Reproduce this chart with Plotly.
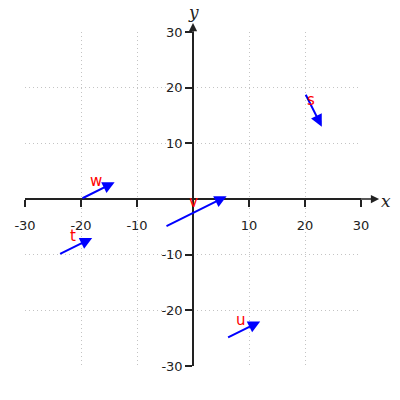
import plotly.graph_objects as go

# ── data ─────────────────────────────────────────────────────────────
names  = ['s', 't', 'u', 'v', 'w']
tail_x = [20, -24, 6, -5, -20]
tail_y = [19, -10, -25, -5, 0]
dx     = [3, 6, 6, 11, 6]
dy     = [-6, 3, 3, 5.5, 3]

tick_vals = [-30, -20, -10, 10, 20, 30]
tick_text = ['-30', '-20', '-10', '10', '20', '30']

# ── style ────────────────────────────────────────────────────────────
ARROW_COLOR = 'blue'
LABEL_COLOR = 'red'
AXIS_COLOR  = '#222222'

fig = go.Figure()

# invisible trace so the axes get drawn
fig.add_trace(go.Scatter(x=tail_x, y=tail_y, mode='markers',
                         marker=dict(opacity=0), hoverinfo='skip',
                         showlegend=False))

for n, x0, y0, ddx, ddy in zip(names, tail_x, tail_y, dx, dy):
    x1, y1 = x0 + ddx, y0 + ddy
    fig.add_annotation(
        x=x1, y=y1, ax=x0, ay=y0,
        xref='x', yref='y', axref='x', ayref='y',
        text='', showarrow=True,
        arrowhead=2, arrowsize=1.2, arrowwidth=2,
        arrowcolor=ARROW_COLOR, standoff=0, startstandoff=0,
    )
    fig.add_annotation(
        x=(x0 + x1) / 2, y=(y0 + y1) / 2, xref='x', yref='y',
        text=n, showarrow=False, xshift=-2, yshift=10,
        font=dict(color=LABEL_COLOR, size=15, family='DejaVu Sans'),
    )

# axis arrowheads + names
fig.add_annotation(x=1.054, y=0.5, xref='paper', yref='paper',
                   ax=-20, ay=0, text='', showarrow=True, arrowhead=2,
                   arrowsize=1.1, arrowwidth=1.5, arrowcolor=AXIS_COLOR)
fig.add_annotation(x=0.5, y=1.027, xref='paper', yref='paper',
                   ax=0, ay=20, text='', showarrow=True, arrowhead=2,
                   arrowsize=1.1, arrowwidth=1.5, arrowcolor=AXIS_COLOR)
fig.add_annotation(x=1.074, y=0.494, xref='paper', yref='paper',
                   xanchor='center', yanchor='middle',
                   text='<i>x</i>', showarrow=False,
                   font=dict(family='DejaVu Serif', size=17, color=AXIS_COLOR))
fig.add_annotation(x=0.5, y=1.06, xref='paper', yref='paper',
                   xanchor='center', yanchor='middle',
                   text='<i>y</i>', showarrow=False,
                   font=dict(family='DejaVu Serif', size=17, color=AXIS_COLOR))

axis_common = dict(
    tickvals=tick_vals, ticktext=tick_text,
    showgrid=True, gridcolor='#c4c4c4', griddash='1px,3px', gridwidth=1,
    zeroline=False, showline=True, linecolor=AXIS_COLOR, linewidth=1.5,
    ticks='outside', ticklen=7, tickcolor=AXIS_COLOR, tickwidth=1.5,
    tickfont=dict(family='DejaVu Sans', size=13, color=AXIS_COLOR),
    anchor='free', position=0.5, automargin=False, fixedrange=True,
)

fig.update_layout(
    width=400, height=400,
    plot_bgcolor='white', paper_bgcolor='white',
    margin=dict(l=25, r=39, t=32, b=34),
    xaxis=dict(range=[-30, 30], ticklabelstandoff=8, **axis_common),
    yaxis=dict(range=[-30, 30], **axis_common),
    showlegend=False,
)

# drop the page's default 8px body margin so the figure sits at (0, 0)
fig.write_html("out.html", config={'displayModeBar': False},
               post_script="document.body.style.margin='0';")
